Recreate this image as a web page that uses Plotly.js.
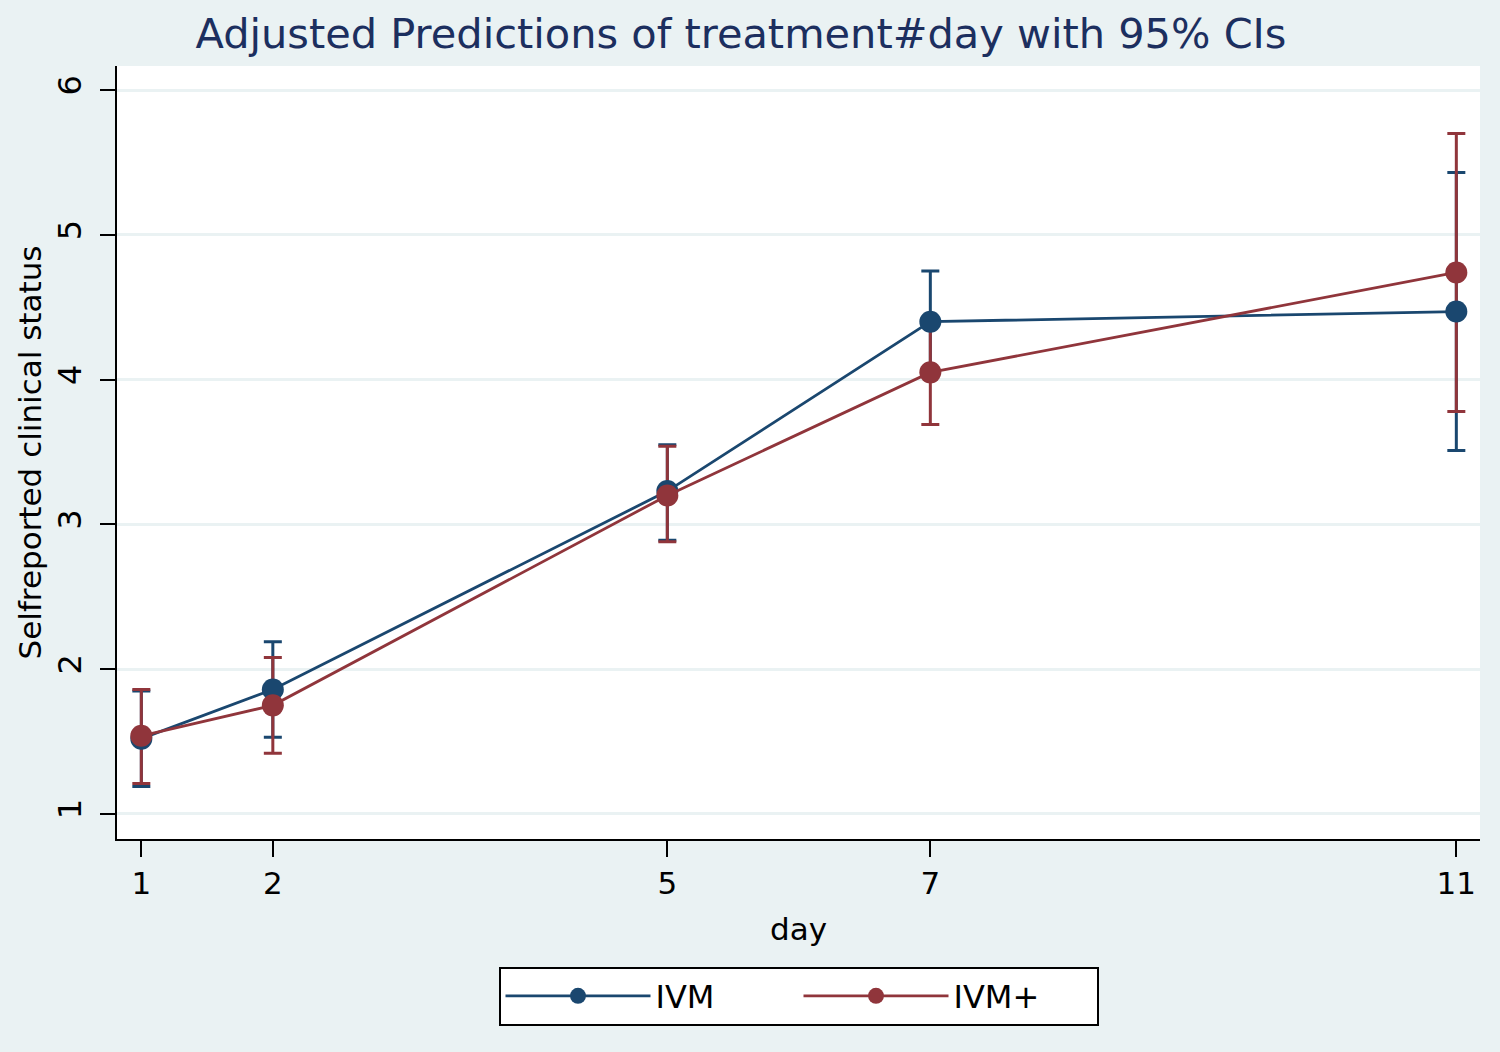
<!DOCTYPE html>
<html>
<head>
<meta charset="utf-8">
<script src="https://cdn.plot.ly/plotly-3.0.1.min.js"></script>
<style>html,body{margin:0;padding:0;background:#eaf2f3;}</style>
</head>
<body>
<div id="chart" style="width:1500px;height:1052px;"></div>
<script>
const days = [1, 2, 5, 7, 11];
const ivm = [1.52, 1.86, 3.23, 4.40, 4.47];
const ivmLo = [1.19, 1.53, 2.89, 4.05, 3.51];
const ivmHi = [1.85, 2.19, 3.55, 4.75, 5.43];
const ivmp = [1.54, 1.75, 3.20, 4.05, 4.74];
const ivmpLo = [1.21, 1.42, 2.88, 3.69, 3.78];
const ivmpHi = [1.86, 2.08, 3.54, 4.41, 5.70];
const yTicks = [1, 2, 3, 4, 5, 6];

const blue = '#1a476f';
const red = '#90353b';
const font = 'DejaVu Sans';

function ciTrace(y, lo, hi, color) {
  return {
    x: days, y: y, type: 'scatter', mode: 'markers',
    marker: {size: 1, opacity: 0}, showlegend: false, hoverinfo: 'skip',
    error_y: {type: 'data', symmetric: false,
      array: hi.map((v, i) => v - y[i]),
      arrayminus: y.map((v, i) => v - lo[i]),
      color: color, thickness: 3, width: 9}
  };
}

const data = [
  ciTrace(ivm, ivmLo, ivmHi, blue),
  ciTrace(ivmp, ivmpLo, ivmpHi, red),
  {x: days, y: ivm, name: 'IVM', type: 'scatter', mode: 'lines+markers',
   line: {color: blue, width: 2.8}, marker: {color: blue, size: 22}},
  {x: days, y: ivmp, name: 'IVM+', type: 'scatter', mode: 'lines+markers',
   line: {color: red, width: 2.8}, marker: {color: red, size: 22}}
];

const layout = {
  width: 1500, height: 1052,
  paper_bgcolor: '#eaf2f3', plot_bgcolor: '#ffffff',
  margin: {l: 117, r: 20, t: 66, b: 213},
  font: {family: font, color: '#000000'},
  title: {text: 'Adjusted Predictions of treatment#day with 95% CIs',
    font: {family: font, size: 41.5, color: '#1c2f5f'},
    x: 0.494, xanchor: 'center', y: 0.968, yanchor: 'middle'},
  xaxis: {
    range: [0.815, 11.18], tickvals: days, ticktext: days.map(String),
    showgrid: false, zeroline: false, showline: true, linecolor: '#000', linewidth: 2,
    ticks: 'outside', ticklen: 16, tickwidth: 2, tickcolor: '#000',
    tickfont: {size: 31, family: font},
    title: {text: 'day', font: {size: 31, family: font}, standoff: 18}
  },
  yaxis: {
    range: [0.827, 6.166], tickvals: yTicks, ticktext: yTicks.map(String),
    showgrid: true, gridcolor: '#eaf2f3', gridwidth: 3, zeroline: false,
    showline: true, linecolor: '#000', linewidth: 2,
    ticks: 'outside', ticklen: 15, tickwidth: 2, tickcolor: '#000',
    tickangle: -90, tickfont: {size: 32, family: font}, ticklabelstandoff: 6,
    title: {text: 'Selfreported clinical status', font: {size: 31, family: font}, standoff: 0}
  },
  showlegend: true,
  legend: {
    orientation: 'h', x: 0.5, y: -0.165, xanchor: 'center', yanchor: 'top',
    bgcolor: '#ffffff', bordercolor: '#000000', borderwidth: 2,
    font: {size: 32, family: font}, itemwidth: 145, itemsizing: 'trace',
    entrywidth: 138, entrywidthmode: 'pixels',
    traceorder: 'normal'
  }
};

Plotly.newPlot('chart', data, layout, {displayModeBar: false, staticPlot: true});
</script>
</body>
</html>
